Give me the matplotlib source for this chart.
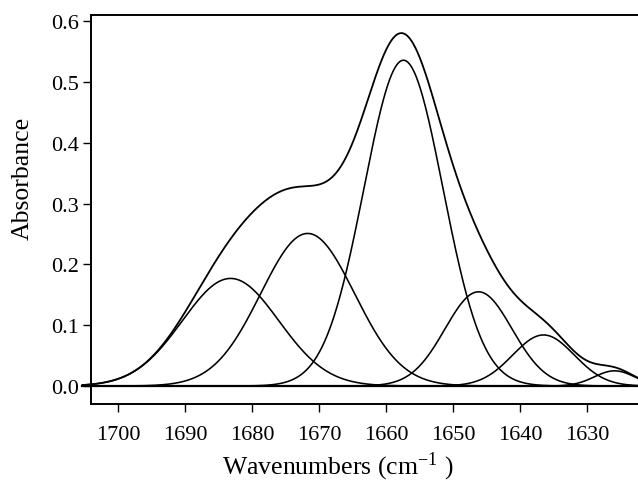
import numpy as np
import matplotlib
matplotlib.use("Agg")
import matplotlib.pyplot as plt

plt.rcParams['font.family'] = ['Liberation Serif', 'DejaVu Serif']
plt.rcParams['mathtext.fontset'] = 'stix'

# fitted band components
band_centers = [1683.2, 1671.7, 1657.4, 1646.2, 1636.5, 1625.9]   # cm^-1
band_heights = [0.177, 0.251, 0.536, 0.155, 0.084, 0.025]
band_sigmas = [7.2, 7.0, 5.9, 5.0, 4.6, 3.0]

x_ticks = [1700, 1690, 1680, 1670, 1660, 1650, 1640, 1630]
y_ticks = [0.0, 0.1, 0.2, 0.3, 0.4, 0.5, 0.6]


def band(wn, c, h, s):
    return h * np.exp(-(wn - c) ** 2 / (2 * s ** 2))


def main():
    wn = np.linspace(1705.3, 1621.5, 900)
    comps = [band(wn, c, h, s) for c, h, s in zip(band_centers, band_heights, band_sigmas)]
    envelope = np.sum(comps, axis=0)

    fig = plt.figure(figsize=(6.38, 4.85), dpi=100)
    ax = fig.add_axes([91 / 638, 80 / 485, 547 / 638, 389 / 485])

    ax.plot(wn, np.zeros_like(wn), color='black', lw=1.6, clip_on=False)
    for y in comps:
        ax.plot(wn, y, color='black', lw=1.15, clip_on=False)
    ax.plot(wn, envelope, color='black', lw=1.3, clip_on=False)

    ax.set_xlim(1704.03, 1622.4)
    ax.set_ylim(-0.0296, 0.6104)
    ax.set_xticks(x_ticks)
    ax.set_xticklabels([str(t) for t in x_ticks])
    ax.set_yticks(y_ticks)
    ax.set_yticklabels([f"{t:.1f}" for t in y_ticks])
    ax.tick_params(axis='both', direction='out', length=6, width=1, labelsize=16, pad=3)
    ax.tick_params(axis='x', pad=9)

    ax.spines['right'].set_visible(False)
    for sp in ['top', 'left', 'bottom']:
        ax.spines[sp].set_linewidth(1.4)

    fig.text(23 / 638, 1 - 178 / 485, 'Absorbance', rotation=90, fontsize=18.5,
             ha='center', va='center')
    fig.text(338 / 638, 1 - 467 / 485, r'Wavenumbers (cm$^{\mathregular{-1}}$ )', fontsize=18.5,
             ha='center', va='center')

    fig.savefig('out.png', dpi=100)


if __name__ == "__main__":
    main()
